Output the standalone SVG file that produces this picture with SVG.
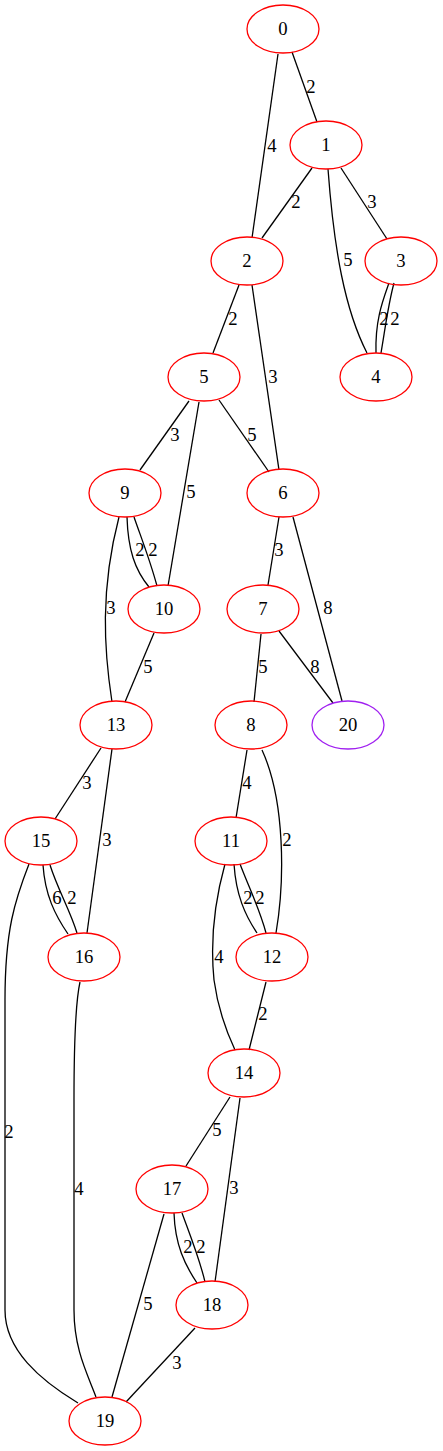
<svg xmlns="http://www.w3.org/2000/svg" width="443" height="1451" viewBox="0 0 443 1451">
<style>
.n ellipse{fill:none;stroke:#ff0000;stroke-width:1.3}
.p ellipse{fill:none;stroke:#a020f0;stroke-width:1.3}
text{font-family:"Liberation Serif","Times New Roman",serif;font-size:18.67px;fill:#000;text-anchor:middle}
#edges path{fill:none;stroke:#000;stroke-width:1.3}
</style>
<rect width="443" height="1451" fill="#fff"/>
<g id="edges">
<path d="M292,52 L317,122"/>
<path d="M278,54 L252,238"/>
<path d="M312,168 L262,238"/>
<path d="M341,168 L387,239"/>
<path d="M328,169 C334,250 345,310 367,353"/>
<path d="M389,283 C383,300 375,320 376,353"/>
<path d="M394,283 C388,305 385,330 381,353"/>
<path d="M239,285 L213,353"/>
<path d="M252,285 L279,470"/>
<path d="M189,401 L140,470"/>
<path d="M199,402 L168,586"/>
<path d="M219,400 L269,472"/>
<path d="M279,517 L268,585"/>
<path d="M293,517 L342,701"/>
<path d="M279,631 L333,703"/>
<path d="M261,634 L254,702"/>
<path d="M127,517 C128,550 135,570 149,587"/>
<path d="M134,517 C142,540 150,560 157,586"/>
<path d="M119,517 C100,590 104,650 112,702"/>
<path d="M154,633 L125,702"/>
<path d="M101,748 L55,819"/>
<path d="M112,749 L87,933"/>
<path d="M247,750 L236,818"/>
<path d="M262,750 C285,800 285,880 276,933"/>
<path d="M43,865 C45,895 55,915 68,934"/>
<path d="M50,865 C58,890 70,910 77,933"/>
<path d="M29,864 C15,900 5,930 5,1000 L5,1310 C5,1350 40,1380 78,1403"/>
<path d="M80,982 C76,1000 74,1040 74,1100 L74,1310 C74,1350 88,1375 96,1397"/>
<path d="M234,864 C236,895 245,915 257,933"/>
<path d="M240,864 C250,890 260,910 266,933"/>
<path d="M225,864 C215,900 210,940 214,980 C218,1010 228,1035 235,1050"/>
<path d="M266,982 L249,1050"/>
<path d="M230,1097 L186,1166"/>
<path d="M240,1098 L215,1282"/>
<path d="M174,1213 C175,1245 185,1265 197,1283"/>
<path d="M182,1213 C190,1235 200,1260 205,1282"/>
<path d="M164,1214 L112,1397"/>
<path d="M195,1328 L126,1402"/>
<text x="311" y="93">2</text>
<text x="272" y="152">4</text>
<text x="296" y="208">2</text>
<text x="372" y="208">3</text>
<text x="348" y="266">5</text>
<text x="384" y="325">2</text>
<text x="395" y="325">2</text>
<text x="233" y="325">2</text>
<text x="273" y="383">3</text>
<text x="175" y="441">3</text>
<text x="191" y="498">5</text>
<text x="252" y="441">5</text>
<text x="279" y="556">3</text>
<text x="328" y="614">8</text>
<text x="315" y="673">8</text>
<text x="263" y="673">5</text>
<text x="140" y="556">2</text>
<text x="153" y="556">2</text>
<text x="111" y="614">3</text>
<text x="148" y="673">5</text>
<text x="87" y="789">3</text>
<text x="107" y="846">3</text>
<text x="247" y="789">4</text>
<text x="287" y="846">2</text>
<text x="57" y="904">6</text>
<text x="72" y="904">2</text>
<text x="9" y="1138">2</text>
<text x="79" y="1195">4</text>
<text x="248" y="904">2</text>
<text x="260" y="904">2</text>
<text x="219" y="963">4</text>
<text x="263" y="1020">2</text>
<text x="217" y="1136">5</text>
<text x="234" y="1194">3</text>
<text x="188" y="1253">2</text>
<text x="201" y="1253">2</text>
<text x="148" y="1310">5</text>
<text x="177" y="1369">3</text>
</g>
<g id="node0" class="n"><ellipse cx="283" cy="29" rx="36" ry="24"/><text x="283" y="35">0</text></g>
<g id="node1" class="n"><ellipse cx="326" cy="145" rx="36" ry="24"/><text x="326" y="151">1</text></g>
<g id="node2" class="n"><ellipse cx="247" cy="261" rx="36" ry="24"/><text x="247" y="267">2</text></g>
<g id="node3" class="n"><ellipse cx="401" cy="261" rx="36" ry="24"/><text x="401" y="267">3</text></g>
<g id="node4" class="n"><ellipse cx="376" cy="377" rx="36" ry="24"/><text x="376" y="383">4</text></g>
<g id="node5" class="n"><ellipse cx="204" cy="377" rx="36" ry="24"/><text x="204" y="383">5</text></g>
<g id="node6" class="n"><ellipse cx="283" cy="493" rx="36" ry="24"/><text x="283" y="499">6</text></g>
<g id="node7" class="n"><ellipse cx="263" cy="609" rx="36" ry="24"/><text x="263" y="615">7</text></g>
<g id="node8" class="n"><ellipse cx="251" cy="725" rx="36" ry="24"/><text x="251" y="731">8</text></g>
<g id="node9" class="n"><ellipse cx="125" cy="493" rx="36" ry="24"/><text x="125" y="499">9</text></g>
<g id="node10" class="n"><ellipse cx="164" cy="609" rx="36" ry="24"/><text x="164" y="615">10</text></g>
<g id="node11" class="n"><ellipse cx="231" cy="841" rx="36" ry="24"/><text x="231" y="847">11</text></g>
<g id="node12" class="n"><ellipse cx="272" cy="957" rx="36" ry="24"/><text x="272" y="963">12</text></g>
<g id="node13" class="n"><ellipse cx="116" cy="725" rx="36" ry="24"/><text x="116" y="731">13</text></g>
<g id="node14" class="n"><ellipse cx="244" cy="1073" rx="36" ry="24"/><text x="244" y="1079">14</text></g>
<g id="node15" class="n"><ellipse cx="41" cy="841" rx="36" ry="24"/><text x="41" y="847">15</text></g>
<g id="node16" class="n"><ellipse cx="84" cy="957" rx="36" ry="24"/><text x="84" y="963">16</text></g>
<g id="node17" class="n"><ellipse cx="172" cy="1189" rx="36" ry="24"/><text x="172" y="1195">17</text></g>
<g id="node18" class="n"><ellipse cx="212" cy="1305" rx="36" ry="24"/><text x="212" y="1311">18</text></g>
<g id="node19" class="n"><ellipse cx="105" cy="1421" rx="36" ry="24"/><text x="105" y="1427">19</text></g>
<g id="node20" class="p"><ellipse cx="348" cy="725" rx="36" ry="24"/><text x="348" y="731">20</text></g>
</svg>
